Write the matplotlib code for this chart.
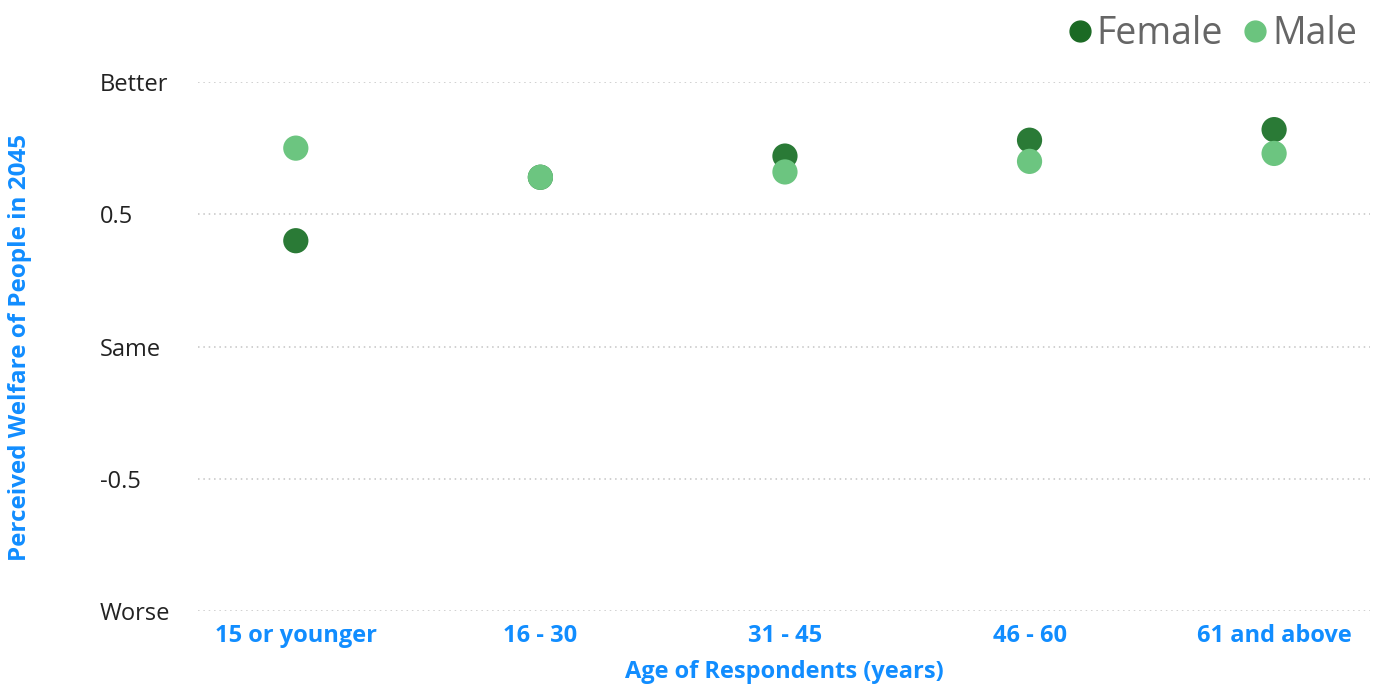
import matplotlib.pyplot as plt
from matplotlib.lines import Line2D
import numpy as np

# data
categories = ["15 or younger", "16 - 30", "31 - 45", "46 - 60", "61 and above"]
female = [0.40, 0.64, 0.72, 0.78, 0.82]
male = [0.75, 0.64, 0.66, 0.70, 0.73]
y_ticks = [-1, -0.5, 0, 0.5, 1]
y_tick_labels = ["Worse", "-0.5", "Same", "0.5", "Better"]

BLUE = "#118dff"
FEMALE_C = "#2a7a36"
MALE_C = "#6cc580"

plt.rcParams["font.family"] = ["Open Sans", "DejaVu Sans"]

fig = plt.figure(figsize=(13.73, 6.84), dpi=100)
ax = fig.add_axes([0.1442, 0.1067, 0.8536, 0.7734])

x = np.arange(len(categories))
ax.scatter(x, female, s=330, color=FEMALE_C, edgecolor="none", zorder=3, clip_on=False)
ax.scatter(x, male, s=330, color=MALE_C, edgecolor="none", zorder=4, clip_on=False)

ax.set_xlim(-0.4, len(categories) - 1 + 0.392)
ax.set_ylim(-1, 1)
ax.set_xticks(x)
ax.set_xticklabels(categories, color=BLUE, fontsize=17, fontweight="bold")
ax.set_yticks(y_ticks)
ax.set_yticklabels(y_tick_labels, fontsize=17, color="#222222", ha="left")
ax.tick_params(axis="y", length=0, pad=70.5)
ax.tick_params(axis="x", length=0, pad=9)

for y in y_ticks:
    ax.axhline(y, color="#c4c4c4", linestyle=(0, (1, 2.5)), linewidth=1.1, zorder=1)

for side in ["top", "right", "bottom", "left"]:
    ax.spines[side].set_visible(False)

ax.set_xlabel("Age of Respondents (years)", color=BLUE, fontsize=17, fontweight="bold", labelpad=9)
fig.text(0.0146, 0.492, "Perceived Welfare of People in 2045", rotation=90, color=BLUE,
         fontsize=17.5, fontweight="bold", ha="center", va="center")

handles = [
    Line2D([], [], marker="o", linestyle="none", markersize=15, color="#1b6a24", label="Female"),
    Line2D([], [], marker="o", linestyle="none", markersize=15, color="#6bc47e", label="Male"),
]
fig.legend(handles=handles, loc="upper right", bbox_to_anchor=(1.013, 1.027), ncol=2, frameon=False,
           fontsize=27, labelcolor="#666666", handletextpad=0.0, columnspacing=0.4, handlelength=0.9)

fig.savefig("out.png", dpi=100, facecolor="white")
